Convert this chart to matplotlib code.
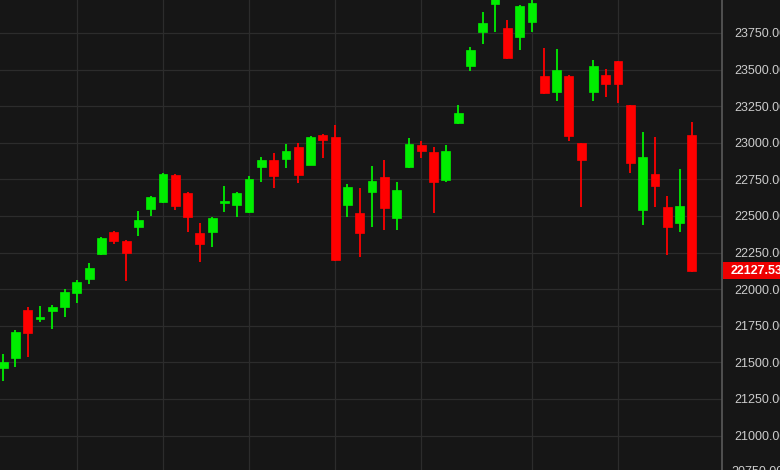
import numpy as np
import matplotlib
matplotlib.use('Agg')
import matplotlib.pyplot as plt
from matplotlib.patches import Rectangle

matplotlib.rcParams['font.family'] = ['Liberation Sans', 'DejaVu Sans']

# 日K线数据 (开, 高, 低, 收)
opens = [21460, 21530, 21858, 21796, 21851, 21878, 21974, 22069, 22240, 22390,
         22329, 22425, 22548, 22595, 22780, 22657, 22384, 22390, 22588, 22575,
         22527, 22834, 22882, 22889, 22971, 22848, 23053, 23039, 22575, 22520,
         22664, 22766, 22486, 22834, 22985, 22937, 22746, 23135, 23524, 23756,
         23950, 23784, 23722, 23825, 23456, 23347, 23456, 22998, 23347, 23463,
         23558, 23258, 22541, 22787, 22561, 22452, 23053]
highs = [21555, 21720, 21878, 21885, 21892, 22001, 22063, 22179, 22356, 22397,
         22335, 22534, 22636, 22793, 22787, 22664, 22452, 22493, 22705, 22664,
         22773, 22903, 22930, 22991, 22998, 23046, 23060, 23121, 22718, 22691,
         22841, 22882, 22732, 23032, 23012, 22971, 22985, 23258, 23654, 23893,
         24060, 23838, 23941, 23995, 23647, 23640, 23460, 23000, 23565, 23504,
         23560, 23260, 23073, 23039, 22636, 22821, 23142]
lows = [21375, 21470, 21537, 21776, 21728, 21810, 21906, 22035, 22233, 22308,
        22056, 22363, 22500, 22588, 22541, 22390, 22186, 22288, 22527, 22493,
        22520, 22732, 22691, 22828, 22725, 22845, 22896, 22192, 22493, 22220,
        22425, 22404, 22404, 22830, 22896, 22520, 22732, 23130, 23490, 23674,
        23756, 23575, 23634, 23756, 23335, 23285, 23012, 22561, 23285, 23312,
        23271, 22793, 22438, 22561, 22233, 22390, 22120]
closes = [21500, 21705, 21700, 21808, 21878, 21981, 22049, 22145, 22350, 22329,
          22247, 22472, 22629, 22787, 22568, 22493, 22308, 22486, 22602, 22657,
          22752, 22882, 22773, 22944, 22780, 23039, 23019, 22199, 22698, 22384,
          22739, 22554, 22677, 22991, 22944, 22732, 22944, 23203, 23634, 23818,
          24010, 23579, 23934, 23955, 23340, 23497, 23046, 22882, 23524, 23401,
          23401, 22862, 22903, 22705, 22425, 22568, 22127.53]

# 竖向网格所在的K线序号
vgrid_idx = [6, 13, 20, 27, 34, 43, 50]
price_ticks = np.arange(21000, 23751, 250)
edge_ticks = [24000, 20750]   # 被上下边缘截断的刻度
last_price = closes[-1]

bg = '#161616'
up_color = '#00ee00'
down_color = '#ff0000'
label_color = '#cccccc'
fs = 9

o = np.array(opens, dtype=float)
h = np.array(highs, dtype=float)
l = np.array(lows, dtype=float)
c = np.array(closes, dtype=float)
x = np.arange(len(o))
up = c >= o
colors = np.where(up, up_color, down_color)

fig = plt.figure(figsize=(7.8, 4.7), dpi=100, facecolor=bg)
ax = fig.add_axes([0, 0, 722 / 780, 1])
ax.set_facecolor(bg)

# 影线
ax.vlines(x, l, h, colors=colors, linewidth=1.3, zorder=3)
# 实体
body_bottom = np.minimum(o, c)
body_height = np.maximum(np.abs(c - o), 12)
ax.bar(x, body_height, bottom=body_bottom, width=0.72, color=colors,
       edgecolor=colors, linewidth=0.5, zorder=4)

ax.set_xlim(-0.25, 58.45)
ax.set_ylim(20765, 23975)

ax.set_xticks(vgrid_idx)
ax.set_xticklabels([])
ax.set_yticks(price_ticks)
ax.yaxis.tick_right()
ax.tick_params(axis='both', length=0)
ax.tick_params(axis='y', colors=label_color, labelsize=fs, pad=9)
ax.set_yticklabels([f'{v:.2f}' for v in price_ticks])
ax.grid(True, color='#2c2c2c', linewidth=0.9)
ax.set_axisbelow(True)

for side in ['top', 'bottom', 'left']:
    ax.spines[side].set_visible(False)
ax.spines['right'].set_color('#5a5a5a')
ax.spines['right'].set_linewidth(1.2)

ytr = ax.get_yaxis_transform()
label_x = 1.0 + 9 / 722

for v in edge_ticks:
    ax.text(label_x, v, f'{v:.2f}', transform=ytr, color=label_color,
            fontsize=fs, va='center', ha='left', clip_on=False)

# 最新价标签
box_h = 17 * (23975 - 20765) / 470
ax.add_patch(Rectangle((1.0 + 1 / 722, last_price - box_h / 2), 0.1, box_h,
                       transform=ytr, facecolor='#ee0000', edgecolor='none',
                       clip_on=False, zorder=9))
ax.text(label_x, last_price, f'{last_price:.2f}', transform=ytr,
        color='white', fontsize=fs, fontweight='bold',
        va='center', ha='left', clip_on=False, zorder=10)

fig.savefig('out.png', dpi=100, facecolor=bg)
